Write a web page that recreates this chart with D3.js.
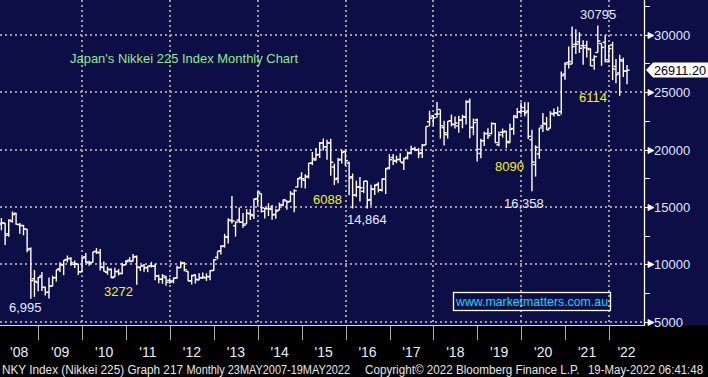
<!DOCTYPE html>
<html>
<head>
<meta charset="utf-8">
<script src="https://cdn.jsdelivr.net/npm/d3@7"></script>
<style>
  body { margin: 0; background: #000; }
  svg { display: block; }
  text { font-family: "Liberation Sans", Arial, sans-serif; }
</style>
</head>
<body>
<div id="chart"></div>
<script>
// monthly OHLC for NKY, Jan 2008 .. May 2022
const firstMonth = new Date(2008, 0, 1)

const opens = [
  15155, 13497, 13600, 12657, 13736, 14440, 13454, 13380, 13060, 11368, 8740, 8418,
  8991, 7992, 7549, 8096, 8848, 9609, 9939, 10415, 10510, 10000, 10018, 9345,
  10654, 10126, 10172, 11125, 11000, 9730, 9300, 9560, 8912, 9370, 9202, 9960,
  10350, 10284, 10679, 9715, 9900, 9718, 9865, 9844, 8990, 8693, 8841, 8606,
  8549, 8793, 9705, 10115, 9381, 8566, 9066, 8635, 8814, 8819, 8930, 9468,
  10604, 11163, 11592, 12365, 13799, 13355, 13852, 13661, 13512, 14408, 14231, 15725,
  16147, 14618, 14866, 14792, 14344, 14714, 15185, 15522, 15476, 16109, 16730, 17566,
  17325, 17606, 18826, 19089, 19567, 20572, 20234, 20566, 18477, 17489, 19142, 19830,
  18818, 17623, 16034, 16719, 16357, 17251, 15644, 16526, 16960, 16495, 17405, 18400,
  19298, 18995, 19139, 18830, 19310, 19724, 20071, 19985, 19712, 20400, 22420, 22917,
  23073, 23487, 21901, 21293, 22508, 22171, 22050, 22571, 22813, 24195, 21925, 22574,
  19655, 20760, 21398, 21390, 22258, 20409, 21500, 21600, 20591, 21831, 22800, 23261,
  23319, 23345, 20849, 18686, 19619, 22062, 22213, 21855, 23096, 23181, 23295, 26568,
  27575, 27439, 29163, 29389, 29047, 29053, 28707, 27802, 28451, 29235, 29331, 27656,
  29098, 27240, 26670, 27710, 26820
]
const highs = [
  15156, 14031, 13600, 13895, 14601, 14489, 13603, 13430, 13072, 11456, 9503, 8886,
  9325, 8047, 8843, 9010, 9522, 10170, 10356, 10767, 10616, 10336, 10045, 10639,
  10982, 10308, 11097, 11408, 11339, 10252, 9797, 9644, 9691, 9597, 10145, 10371,
  10620, 10891, 10768, 9850, 10017, 9876, 10207, 10040, 9096, 9152, 9006, 8783,
  8843, 9866, 10255, 10190, 9402, 9088, 9136, 9222, 9288, 9210, 9484, 10433,
  11110, 11662, 12650, 14018, 15942, 13711, 14953, 14466, 14817, 14809, 15727, 16320,
  16164, 14925, 15312, 15164, 14841, 15376, 15646, 15562, 16374, 16533, 17520, 18030,
  17850, 18830, 19778, 20133, 20655, 20953, 20850, 20947, 18770, 19257, 20012, 20012,
  18951, 17905, 17291, 17613, 17251, 17251, 16938, 16943, 17153, 17473, 18402, 19592,
  19615, 19459, 19668, 19290, 19832, 20318, 20230, 20123, 20481, 22012, 23382, 23000,
  24129, 23486, 22502, 22467, 23050, 22878, 22949, 23032, 24286, 24448, 22698, 22698,
  20940, 21556, 21860, 22362, 22307, 21560, 21823, 21623, 22255, 22974, 23608, 24091,
  24116, 24116, 21719, 20365, 21878, 23185, 22842, 23338, 23564, 23725, 26805, 27602,
  28979, 30714, 30485, 30208, 29518, 29480, 28852, 28202, 30795, 29235, 29960, 29122,
  29388, 27880, 28252, 28000, 27357
]
const lows = [
  12573, 12963, 11691, 12395, 13626, 13450, 12671, 12522, 11054, 6995, 7163, 7653,
  7671, 7284, 7021, 8084, 8493, 9320, 9050, 10164, 9867, 9675, 9076, 9318,
  10141, 9868, 10156, 10900, 9460, 9382, 9091, 8807, 8878, 9027, 9123, 9950,
  10222, 10242, 8227, 9410, 9351, 9318, 9722, 8619, 8343, 8303, 8135, 8296,
  8349, 8740, 9686, 9388, 8542, 8238, 8328, 8612, 8749, 8547, 8619, 9447,
  10434, 10857, 11457, 11805, 13556, 12415, 13615, 13188, 13512, 13853, 13948, 15149,
  14509, 13996, 14203, 13885, 13965, 14714, 15063, 14754, 15426, 14529, 16720, 16672,
  16593, 17480, 18634, 19034, 19258, 19914, 19116, 17714, 16901, 17051, 18774, 18562,
  16017, 14866, 15857, 15471, 16201, 14864, 15107, 16030, 16255, 16331, 16111, 18266,
  18650, 18805, 18940, 18224, 19133, 19589, 19873, 19239, 19254, 20392, 22026, 22119,
  22765, 20950, 20347, 20950, 22002, 21823, 21462, 21851, 22172, 20971, 21243, 18948,
  19241, 20315, 20911, 21323, 20552, 20289, 21039, 20110, 20598, 21276, 22730, 23044,
  22893, 20916, 16358, 17646, 19186, 21530, 21710, 21822, 22877, 22948, 23056, 26085,
  27055, 27439, 28308, 28419, 27385, 28010, 27272, 26954, 28451, 27293, 27589, 27588,
  26044, 25775, 24682, 26320, 25688
]
const closes = [
  13592, 13603, 12525, 13849, 14338, 13481, 13376, 13072, 11259, 8576, 8512, 8859,
  7994, 7568, 8109, 8828, 9522, 9958, 10356, 10492, 10133, 10034, 9345, 10546,
  10198, 10126, 11089, 11057, 9768, 9382, 9537, 8824, 9369, 9202, 9937, 10228,
  10237, 10624, 9755, 9849, 9693, 9816, 9833, 8955, 8700, 8988, 8434, 8455,
  8802, 9723, 10083, 9520, 8542, 9006, 8695, 8839, 8870, 8928, 9446, 10395,
  11138, 11559, 12397, 13861, 13774, 13677, 13668, 13389, 14455, 14327, 15662, 16291,
  14915, 14841, 14828, 14304, 14632, 15162, 15621, 15425, 16174, 16414, 17460, 17451,
  17674, 18798, 19207, 19520, 20563, 20236, 20585, 18890, 17388, 19083, 19747, 19034,
  17518, 16027, 16759, 16666, 17235, 15576, 16569, 16887, 16450, 17425, 18308, 19114,
  19041, 19119, 18909, 19197, 19651, 20033, 19925, 19646, 20356, 22012, 22725, 22765,
  23098, 22068, 21454, 22468, 22202, 22305, 22554, 22865, 24120, 21920, 22351, 20015,
  20773, 21385, 21206, 22259, 20601, 21276, 21522, 20704, 21756, 22927, 23294, 23657,
  23205, 21143, 18917, 20194, 21878, 22288, 21710, 23140, 23185, 22977, 26434, 27444,
  27663, 28966, 29179, 28813, 28860, 28792, 27284, 28090, 29453, 28893, 27822, 28792,
  27002, 26527, 27821, 26848, 26911
]

const yTicks = [5000, 10000, 15000, 20000, 25000, 30000]
const yMinor = [7500, 12500, 17500, 22500, 27500, 32500]
const yearLabels = ["'08", "'09", "'10", "'11", "'12", "'13", "'14", "'15", "'16", "'17", "'18", "'19", "'20", "'21", "'22"]
const lastPrice = 26911.20

// chart notes: [text, x, y, colour]
const notes = [
  ["30795", 580, 19, "#e4ecff"],
  ["6114", 579, 102, "#f2f21e"],
  ["6088", 313, 204, "#f2f21e"],
  ["14,864", 347, 224, "#e4ecff"],
  ["8090", 495, 171, "#f2f21e"],
  ["16,358", 504, 208, "#e4ecff"],
  ["3272", 104, 296, "#f2f21e"],
  ["6,995", 9, 312, "#e4ecff"]
]

const width = 708, height = 377
const plotW = 644, plotH = 325
const navy = "#0e0e46"

const svg = d3.select("#chart").append("svg")
  .attr("width", width)
  .attr("height", height)

svg.append("rect").attr("width", width).attr("height", height).attr("fill", "#000")
svg.append("rect").attr("width", width).attr("height", plotH).attr("fill", navy)

const x = d3.scaleTime()
  .domain([new Date(2009, 0, 1), new Date(2022, 0, 1)])
  .range([38.3, 609])
const y = d3.scaleLinear()
  .domain([5000, 30000])
  .range([321.7, 34.7])

svg.append("clipPath").attr("id", "plotclip")
  .append("rect").attr("width", plotW).attr("height", plotH)

// grid
const grid = svg.append("g")
  .attr("stroke", "#9a9aa8")
  .attr("stroke-width", 2)
  .attr("stroke-dasharray", "2,3")
grid.selectAll("line.h")
  .data(yTicks)
  .join("line")
  .attr("class", "h")
  .attr("x1", 0).attr("x2", plotW)
  .attr("y1", d => Math.round(y(d))).attr("y2", d => Math.round(y(d)))
const gridYears = [2010, 2012, 2014, 2016, 2018, 2020, 2022]
grid.selectAll("line.v")
  .data(gridYears)
  .join("line")
  .attr("class", "v")
  .attr("x1", d => Math.round(x(new Date(d, 0, 1))))
  .attr("x2", d => Math.round(x(new Date(d, 0, 1))))
  .attr("y1", 0).attr("y2", plotH)

// website box
svg.append("rect")
  .attr("x", 453.5).attr("y", 292.5).attr("width", 157).attr("height", 18)
  .attr("fill", "none").attr("stroke", "#fff").attr("stroke-width", 1.3)
svg.append("text")
  .attr("x", 456).attr("y", 306)
  .attr("fill", "#00dcff").attr("font-size", 13)
  .attr("textLength", 152).attr("lengthAdjust", "spacingAndGlyphs")
  .text("www.marketmatters.com.au")

// OHLC bars
const bars = opens.map((o, i) => {
  const d = d3.timeMonth.offset(firstMonth, i)
  return { date: new Date(d.getFullYear(), d.getMonth() + 1, 0), o, h: highs[i], l: lows[i], c: closes[i] }
})

const barG = svg.append("g")
  .attr("clip-path", "url(#plotclip)")
  .attr("stroke", "#fff")
  .attr("stroke-width", 1.4)
const bar = barG.selectAll("g")
  .data(bars)
  .join("g")
  .attr("transform", d => `translate(${x(d.date)},0)`)
bar.append("line").attr("y1", d => y(d.h)).attr("y2", d => y(d.l))
bar.append("line").attr("x1", -2.6).attr("x2", 0).attr("y1", d => y(d.o)).attr("y2", d => y(d.o))
bar.append("line").attr("x1", 0).attr("x2", 2.6).attr("y1", d => y(d.c)).attr("y2", d => y(d.c))

// title
svg.append("text")
  .attr("x", 70).attr("y", 63)
  .attr("fill", "#8ee88e").attr("font-size", 13)
  .attr("textLength", 228).attr("lengthAdjust", "spacingAndGlyphs")
  .text("Japan's Nikkei 225 Index Monthly Chart")

// annotations
svg.append("g").selectAll("text")
  .data(notes)
  .join("text")
  .attr("x", d => d[1]).attr("y", d => d[2])
  .attr("fill", d => d[3])
  .attr("font-size", 13)
  .text(d => d[0])

// right axis
const axisG = svg.append("g")
axisG.append("line")
  .attr("x1", plotW + 0.5).attr("x2", plotW + 0.5)
  .attr("y1", 0).attr("y2", plotH + 1)
  .attr("stroke", "#fff").attr("stroke-width", 1.3)
axisG.append("line")
  .attr("x1", 0).attr("x2", plotW)
  .attr("y1", plotH + 0.5).attr("y2", plotH + 0.5)
  .attr("stroke", "#d8d8e0").attr("stroke-width", 1)
axisG.selectAll("line.minor")
  .data(yMinor)
  .join("line")
  .attr("class", "minor")
  .attr("x1", plotW).attr("x2", plotW + 6)
  .attr("y1", d => Math.round(y(d)) + 0.5).attr("y2", d => Math.round(y(d)) + 0.5)
  .attr("stroke", "#fff")
axisG.selectAll("path.arrow")
  .data(yTicks)
  .join("path")
  .attr("class", "arrow")
  .attr("d", d => {
    const yy = Math.round(y(d)) + 0.5
    return `M${plotW},${yy}H${plotW + 4}L${plotW + 4},${yy - 3}L${plotW + 10},${yy}L${plotW + 4},${yy + 3}L${plotW + 4},${yy}Z`
  })
  .attr("fill", "#fff").attr("stroke", "#fff").attr("stroke-width", 0.8)
axisG.selectAll("text")
  .data(yTicks)
  .join("text")
  .attr("x", 654).attr("y", d => y(d) + 5)
  .attr("fill", "#dfe7ff").attr("font-size", 13)
  .text(d => d)

// last price tag
const ly = Math.round(y(lastPrice))
svg.append("path")
  .attr("d", `M646,${ly}L653,${ly - 7.5}H708V${ly + 7.5}H653Z`)
  .attr("fill", "#fff")
svg.append("text")
  .attr("x", 654).attr("y", ly + 5)
  .attr("fill", "#000").attr("font-size", 13)
  .attr("textLength", 52).attr("lengthAdjust", "spacingAndGlyphs")
  .text(lastPrice.toFixed(2))

// x axis ticks & year labels
const tickYears = d3.range(2009, 2023)
svg.append("g").selectAll("line")
  .data(tickYears)
  .join("line")
  .attr("x1", d => Math.round(x(new Date(d, 0, 1))) + 0.5)
  .attr("x2", d => Math.round(x(new Date(d, 0, 1))) + 0.5)
  .attr("y1", plotH + 1).attr("y2", 340)
  .attr("stroke", "#b0b0b0").attr("stroke-width", 1)

svg.append("g").selectAll("text")
  .data(yearLabels)
  .join("text")
  .attr("x", (d, i) => {
    const a = Math.max(0, x(new Date(2008 + i, 0, 1)))
    const b = Math.min(plotW, x(new Date(2009 + i, 0, 1)))
    return (a + b) / 2
  })
  .attr("y", 357)
  .attr("text-anchor", "middle")
  .attr("fill", "#e8eefa").attr("font-size", 14)
  .text(d => d)

// footer
const footer = [
  ["NKY Index (Nikkei 225) Graph 217", 2, 181],
  ["Monthly 23MAY2007-19MAY2022", 186.5, 163.5],
  ["Copyright\u00a9 2022 Bloomberg Finance L.P.", 365, 214.5],
  ["19-May-2022 06:41:48", 588, 115]
]
svg.append("g").selectAll("text")
  .data(footer)
  .join("text")
  .attr("x", d => d[1]).attr("y", 374)
  .attr("textLength", d => d[2]).attr("lengthAdjust", "spacingAndGlyphs")
  .attr("fill", "#e6e6e6").attr("font-size", 12)
  .text(d => d[0])
</script>
</body>
</html>
